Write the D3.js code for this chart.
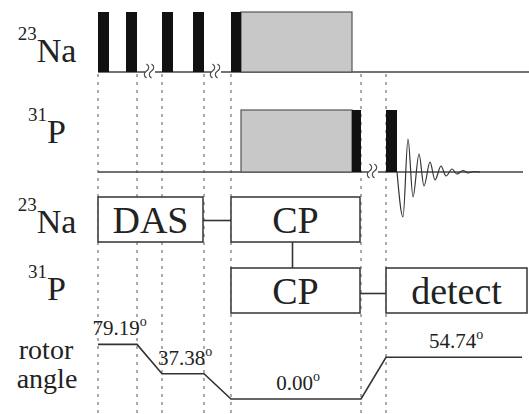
<!DOCTYPE html>
<html>
<head>
<meta charset="utf-8">
<style>
    body { margin: 0; background: #fff; }
</style>
</head>
<body>
<svg width="529" height="414"></svg>
<script src="https://d3js.org/d3.v7.min.js"></script>
<script>
    // time runs in arbitrary units, 0 = start of the DAS block
    let timeMarks = [0, 39, 64, 106, 133, 263, 288];

    let naPulses = [[0, 11], [28, 39], [64, 75], [95, 106], [133, 143]];
    let naContact = [[143, 254]];
    let pContact = [[143, 254]];
    let pPulses = [[254, 263], [288, 299]];
    let naBreaks = [52, 118];
    let pBreaks = [275];

    // FID extrema: [time after last pulse, amplitude]
    let fidPeaks = [[0, 0], [6, -45], [11, 33], [16, -25], [22, 18], [27, -14], [33, 10], [38, -8],
        [44, 6], [49, -4], [55, 3], [60, -2], [66, 1.5], [71, -1], [77, 0.5], [83, 0]];

    let channelSup = ["23", "31", "23", "31"];
    let channelName = ["Na", "P", "Na", "P"];

    let blockLabels = ["DAS", "CP", "CP", "detect"];
    let blockRows = [0, 0, 1, 1];
    let blockSpans = [[0, 106], [133, 263], [133, 263], [288, 430]];
    let blockLinks = [[0, 1], [1, 2], [2, 3]];

    let rotorTimes = [0, 39, 64, 106, 133, 263, 288, 424];
    let rotorAngles = [79.19, 79.19, 37.38, 37.38, 0.00, 0.00, 54.74, 54.74];

    let svg = d3.select("svg");
    let serif = "Liberation Serif";

    let x = d3.scaleLinear().domain([0, 431]).range([98, 529]);
    let yAngle = d3.scaleLinear().domain([0, 40, 55, 80]).range([399, 372, 357, 344]);

    let naTop = 12, naBase = 72;
    let pTop = 110, pBase = 172;
    let boxTop = [197, 268], boxH = 45;
    let labelBase = [62, 143, 233, 300];

    let yFid = d3.scaleLinear().domain([-50, 50]).range([pBase + 50, pBase - 50]);

    // dashed timing lines, behind everything
    svg.append("g")
        .selectAll("line")
        .data(timeMarks)
        .join("line")
        .attr("x1", d => x(d)).attr("x2", d => x(d))
        .attr("y1", naBase + 2).attr("y2", 414)
        .style("stroke", "#555")
        .style("stroke-width", 1)
        .style("stroke-dasharray", "3,5");

    // baselines with gaps at the breaks
    function baseline(y, t0, t1, breaks) {
        let pts = [t0];
        breaks.forEach(b => { pts.push(b - 5); pts.push(b + 5); });
        pts.push(t1);
        for (let i = 0; i < pts.length; i += 2) {
            svg.append("line")
                .attr("x1", x(pts[i])).attr("x2", x(pts[i + 1]))
                .attr("y1", y).attr("y2", y)
                .style("stroke", "#444")
                .style("stroke-width", 1.4);
        }
    }
    baseline(naBase, 0, 431, naBreaks);
    baseline(pBase, 0, 425, pBreaks);

    function squiggle(t, y) {
        [-2.5, 2.5].forEach(off => {
            let cx = x(t) + off;
            svg.append("path")
                .attr("d", `M${cx - 1},${y - 7} c3,2 3,5 0,7 c-3,2 -3,5 0,7`)
                .style("fill", "none")
                .style("stroke", "#444")
                .style("stroke-width", 1.1);
        });
    }
    naBreaks.forEach(b => squiggle(b, naBase - 1));
    pBreaks.forEach(b => squiggle(b, pBase - 1));

    function blocks(data, top, base, fill) {
        svg.append("g")
            .selectAll("rect")
            .data(data)
            .join("rect")
            .attr("x", d => x(d[0]))
            .attr("y", top)
            .attr("width", d => x(d[1]) - x(d[0]))
            .attr("height", base - top)
            .style("fill", fill)
            .style("stroke", fill == "#111" ? "none" : "#555")
            .style("stroke-width", 1.2);
    }
    blocks(naContact, naTop, naBase, "#c8c8c8");
    blocks(pContact, pTop, pBase, "#c8c8c8");
    blocks(naPulses, naTop, naBase, "#111");
    blocks(pPulses, pTop, pBase, "#111");

    // FID
    let fidStart = pPulses[pPulses.length - 1][1];
    svg.append("path")
        .datum(fidPeaks)
        .attr("d", d3.line()
            .x(d => x(fidStart + d[0]))
            .y(d => yFid(d[1]))
            .curve(d3.curveMonotoneX))
        .style("fill", "none")
        .style("stroke", "#333")
        .style("stroke-width", 1.2);

    // block diagram
    let boxes = blockLabels.map((l, i) => ({
        label: l,
        x0: x(blockSpans[i][0]), x1: x(blockSpans[i][1]) - 1,
        y0: boxTop[blockRows[i]], y1: boxTop[blockRows[i]] + boxH
    }));

    blockLinks.forEach(([a, b]) => {
        let A = boxes[a], B = boxes[b];
        let line = svg.append("line")
            .style("stroke", "#333")
            .style("stroke-width", 1.6);
        if (A.y0 == B.y0) {
            let ym = (A.y0 + A.y1) / 2 + (A.y0 > 200 ? 3 : 1);
            line.attr("x1", A.x1).attr("x2", B.x0).attr("y1", ym).attr("y2", ym);
        } else {
            let xm = (A.x0 + A.x1) / 2 - 3;
            line.attr("x1", xm).attr("x2", xm).attr("y1", A.y1).attr("y2", B.y0);
        }
    });

    let bx = svg.append("g")
        .selectAll("g")
        .data(boxes)
        .join("g");
    bx.append("rect")
        .attr("x", d => d.x0).attr("y", d => d.y0)
        .attr("width", d => d.x1 - d.x0).attr("height", boxH)
        .style("fill", "#fff")
        .style("stroke", "#333")
        .style("stroke-width", 1.5);
    bx.append("text")
        .attr("x", d => (d.x0 + d.x1) / 2)
        .attr("y", d => d.y0 + boxH / 2 + 13)
        .attr("text-anchor", "middle")
        .attr("font-family", serif)
        .attr("font-size", 38)
        .attr("fill", "#222")
        .text(d => d.label);

    // channel labels
    let lab = svg.append("g")
        .selectAll("text")
        .data(channelName)
        .join("text")
        .attr("x", 47)
        .attr("y", (d, i) => labelBase[i])
        .attr("text-anchor", "middle")
        .attr("font-family", serif)
        .attr("fill", "#222");
    lab.append("tspan")
        .attr("dy", -22)
        .attr("font-size", 19)
        .text((d, i) => channelSup[i]);
    lab.append("tspan")
        .attr("dy", 22)
        .attr("font-size", 34)
        .text(d => d);

    svg.append("text").attr("x", 46).attr("y", 359).attr("text-anchor", "middle")
        .attr("font-family", serif).attr("fill", "#222")
        .attr("font-size", 28).text("rotor");
    svg.append("text").attr("x", 47).attr("y", 388).attr("text-anchor", "middle")
        .attr("font-family", serif).attr("fill", "#222")
        .attr("font-size", 28).text("angle");

    // rotor angle trace
    let rotor = rotorTimes.map((t, i) => [t, rotorAngles[i]]);
    svg.append("path")
        .datum(rotor)
        .attr("d", d3.line().x(d => x(d[0])).y(d => yAngle(d[1])))
        .style("fill", "none")
        .style("stroke", "#333")
        .style("stroke-width", 1.6);

    let flats = d3.range(0, rotor.length, 2).map(i => [rotor[i], rotor[i + 1]]);
    let al = svg.append("g")
        .selectAll("text")
        .data(flats)
        .join("text")
        .attr("x", d => x((d[0][0] + d[1][0]) / 2) + 2)
        .attr("y", d => yAngle(d[0][1]) - 9)
        .attr("text-anchor", "middle")
        .attr("font-family", serif)
        .attr("fill", "#222")
        .attr("font-size", 21);
    al.append("tspan").text(d => d3.format(".2f")(d[0][1]));
    al.append("tspan")
        .attr("dy", -9)
        .attr("font-size", 14)
        .text("o");
</script>
</body>
</html>
